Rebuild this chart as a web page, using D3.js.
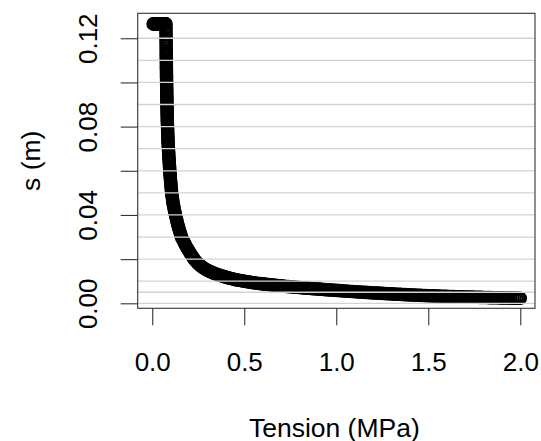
<!DOCTYPE html>
<html><head><meta charset="utf-8">
<script src="https://cdn.jsdelivr.net/npm/d3@7"></script>
<style>body{margin:0;background:#fff}svg{display:block}</style>
</head><body>
<svg id="c" width="541" height="441"></svg>
<script>
// Tension (MPa) and displacement s (m)
const tension = [
0.005,0.009,0.013,0.017,0.021,0.025,0.029,0.033,0.037,0.041,0.045,0.049,0.053,0.057,0.061,0.065,0.069,0.073,
0.0745,0.0746,0.0748,0.0749,0.0751,0.0752,0.0753,0.0754,0.0755,0.0757,0.0758,0.0760,0.0761,0.0762,0.0763,0.0764,0.0765,0.0766,
0.0767,0.0768,0.0769,0.0770,0.0771,0.0772,0.0773,0.0775,0.0776,0.0778,
0.0779,0.0780,0.0782,0.0783,0.0785,0.0786,0.0788,0.0789,0.0791,0.0792,
0.0794,0.0796,0.0798,0.0799,0.0801,0.0803,0.0805,0.0807,0.0808,0.0810,
0.0812,0.0815,0.0818,0.0821,0.0824,0.0827,0.0830,0.0833,0.0836,0.0839,
0.0842,0.0845,0.0848,0.0852,0.0857,0.0861,0.0866,0.0871,0.0876,0.0881,
0.0886,0.0892,0.0898,0.0903,0.0909,0.0914,0.0921,0.0927,0.0934,0.0940,
0.0946,0.0953,0.0960,0.0967,0.0974,0.0981,0.0988,0.0996,0.1003,0.1012,
0.1021,0.1030,0.1038,0.1047,0.1057,0.1070,0.1084,0.1098,0.1111,0.1125,
0.1138,0.1157,0.1176,0.1195,0.1214,0.1234,0.1253,
0.1285,0.1309,0.1332,0.1355,0.1379,0.1402,0.1429,0.1458,0.1487,0.1515,0.1544,0.1573,0.1611,0.1660,0.1709,0.1757,0.1806,0.1855,0.1906,0.1967,0.2028,0.2089,0.2150,0.2211,0.2272,
0.235,0.243,0.251,0.259,0.267,0.275,0.283,0.291,0.299,0.307,0.315,0.323,0.331,0.339,0.347,0.355,0.363,0.371,0.379,0.387,0.395,0.403,0.411,0.419,0.427,0.435,0.443,0.451,
0.46,0.47,0.48,0.49,0.50,0.51,0.52,0.53,
0.54,0.55,0.56,0.57,0.58,0.59,0.60,0.61,0.62,
0.63,0.64,0.65,0.66,0.67,0.68,0.69,0.70,0.71,0.72,0.73,0.74,0.75,0.76,0.77,0.78,0.79,0.80,
0.81,0.82,0.83,0.84,0.85,0.86,0.87,0.88,0.89,0.90,0.91,0.92,0.93,0.94,0.95,0.96,0.97,0.98,0.99,1.00,
1.01,1.02,1.03,1.04,1.05,1.06,1.07,1.08,1.09,1.10,1.11,1.12,1.13,1.14,1.15,1.16,1.17,1.18,
1.19,1.20,1.21,1.22,1.23,1.24,1.25,1.26,1.27,1.28,1.29,1.30,1.31,1.32,1.33,1.34,1.35,1.36,1.37,1.38,1.39,1.40,
1.41,1.42,1.43,1.44,1.45,1.46,1.47,1.48,1.49,1.50,1.51,1.52,1.53,1.54,1.55,1.56,1.57,1.58,1.59,1.60,1.61,1.62,1.63,1.64,1.65,1.66,1.67,
1.68,1.69,1.70,1.71,1.72,1.73,1.74,1.75,1.76,1.77,1.78,1.79,1.80,1.81,1.82,1.83,1.84,1.85,1.86,1.87,1.88,1.89,1.90,1.91,1.92,1.93,1.94,1.95,1.96,1.97,1.98,1.99,2.00
];
const displacement = [
0.1265,0.1265,0.1265,0.1265,0.1265,0.1265,0.1265,0.1265,0.1265,0.1265,0.1265,0.1265,0.1265,0.1265,0.1265,0.1265,0.1265,0.1265,
0.1265,0.1252,0.1240,0.1228,0.1217,0.1206,0.1195,0.1185,0.1175,0.1165,0.1156,0.1147,0.1138,0.1130,0.1122,0.1114,0.1106,0.1099,
0.1091,0.1083,0.1075,0.1067,0.1059,0.1051,0.1043,0.1035,0.1027,0.1019,
0.1011,0.1003,0.0995,0.0987,0.0979,0.0971,0.0963,0.0955,0.0947,0.0939,
0.0931,0.0923,0.0915,0.0907,0.0899,0.0891,0.0883,0.0875,0.0867,0.0859,
0.0851,0.0843,0.0835,0.0827,0.0819,0.0811,0.0803,0.0795,0.0787,0.0779,
0.0771,0.0763,0.0755,0.0747,0.0739,0.0731,0.0723,0.0715,0.0707,0.0699,
0.0691,0.0683,0.0675,0.0667,0.0659,0.0651,0.0643,0.0635,0.0627,0.0619,
0.0611,0.0603,0.0595,0.0587,0.0579,0.0571,0.0563,0.0555,0.0547,0.0539,
0.0531,0.0523,0.0515,0.0507,0.0499,0.0491,0.0483,0.0475,0.0467,0.0459,
0.0451,0.0443,0.0435,0.0427,0.0419,0.0411,0.0403,
0.0392,0.0384,0.0376,0.0368,0.0360,0.0352,0.0344,0.0336,0.0328,0.0320,0.0312,0.0304,0.0296,0.0288,0.0280,0.0272,0.0264,0.0256,0.0248,0.0240,0.0232,0.0224,0.0216,0.0208,0.0200,
0.01929,0.01848,0.01784,0.01721,0.01671,0.01621,0.01576,0.01535,0.01499,0.01467,0.01436,0.01408,0.01377,0.01350,0.01327,0.01300,0.01279,0.01259,0.01236,0.01218,0.01196,0.01178,0.01159,0.01141,0.01123,0.01110,0.01091,0.01073,
0.01060,0.01045,0.01031,0.01016,0.01002,0.00987,0.00973,0.00958,
0.00945,0.00933,0.00922,0.00911,0.00900,0.00890,0.00879,0.00869,0.00859,
0.00849,0.00840,0.00831,0.00822,0.00813,0.00804,0.00796,0.00788,0.00780,0.00772,0.00764,0.00757,0.00749,0.00742,0.00735,0.00728,0.00721,0.00714,
0.00707,0.00700,0.00693,0.00686,0.00680,0.00673,0.00666,0.00660,0.00653,0.00647,0.00640,0.00634,0.00627,0.00621,0.00615,0.00608,0.00602,0.00596,0.00590,0.00584,
0.00578,0.00572,0.00566,0.00560,0.00555,0.00549,0.00543,0.00537,0.00532,0.00526,0.00521,0.00515,0.00510,0.00504,0.00499,0.00494,0.00488,0.00483,
0.00478,0.00473,0.00468,0.00464,0.00459,0.00454,0.00449,0.00445,0.00440,0.00435,0.00431,0.00426,0.00422,0.00417,0.00413,0.00408,0.00404,0.00400,0.00395,0.00391,0.00387,0.00383,
0.00379,0.00375,0.00371,0.00367,0.00363,0.00360,0.00356,0.00352,0.00349,0.00345,0.00342,0.00338,0.00335,0.00332,0.00328,0.00325,0.00322,0.00319,0.00316,0.00313,0.00310,0.00307,0.00304,0.00302,0.00299,0.00296,0.00294,
0.00291,0.00289,0.00287,0.00284,0.00282,0.00280,0.00278,0.00275,0.00273,0.00271,0.00269,0.00267,0.00265,0.00263,0.00261,0.00259,0.00257,0.00255,0.00254,0.00252,0.00250,0.00248,0.00246,0.00245,0.00243,0.00241,0.00240,0.00238,0.00236,0.00235,0.00233,0.00232,0.00230
];
const xTicks = [0, 0.5, 1, 1.5, 2];
const xTickLabels = ["0.0", "0.5", "1.0", "1.5", "2.0"];
const yTicks = [0, 0.02, 0.04, 0.06, 0.08, 0.10, 0.12];
const yTickLabels = ["0.00", "", "0.04", "", "0.08", "", "0.12"];
const gridLevels = [0, 0.005, 0.01, 0.02, 0.03, 0.04, 0.05, 0.06, 0.07, 0.08, 0.09, 0.10, 0.11, 0.12];
const xLim = [-0.079, 2.080];
const yLim = [-0.00226, 0.1313];
const xTitle = "Tension (MPa)";
const yTitle = "s (m)";

const FONT = "'Liberation Sans', Arial, Helvetica, sans-serif";
const L = 137.7, R = 535, T = 13.3, B = 308.3;
const svg = d3.select("#c");
svg.append("rect").attr("width", 541).attr("height", 441).attr("fill", "#fff");

const x = d3.scaleLinear().domain(xLim).range([L, R]);
const y = d3.scaleLinear().domain(yLim).range([B, T]);

const n = Math.min(tension.length, displacement.length);
const pts = d3.range(n).map(i => ({t: tension[i], s: displacement[i]}));

svg.append("defs").append("clipPath").attr("id", "pc")
  .append("rect").attr("x", L).attr("y", T).attr("width", R - L).attr("height", B - T);

svg.append("g").attr("clip-path", "url(#pc)")
  .selectAll("circle").data(pts).join("circle")
  .attr("cx", d => x(d.t)).attr("cy", d => y(d.s))
  .attr("r", 5.8).attr("fill", "none").attr("stroke", "#000").attr("stroke-width", 2);

// horizontal reference lines (drawn over the points)
svg.append("g").selectAll("line").data(gridLevels).join("line")
  .attr("x1", L).attr("x2", R)
  .attr("y1", d => y(d)).attr("y2", d => y(d))
  .attr("stroke", "#d3d3d3").attr("stroke-width", 1.3);

// box
svg.append("rect").attr("x", L).attr("y", T).attr("width", R - L).attr("height", B - T)
  .attr("fill", "none").attr("stroke", "#333").attr("stroke-width", 1.1);

// x axis
const gx = svg.append("g").attr("transform", `translate(0,${B})`)
  .call(d3.axisBottom(x).tickValues(xTicks).tickFormat((d, i) => xTickLabels[i]).tickSize(17).tickSizeOuter(0));
gx.select(".domain").remove();
gx.attr("font-family", FONT).attr("font-size", 26);
gx.selectAll(".tick line").attr("stroke", "#333").attr("stroke-width", 1.1);
gx.selectAll(".tick text").attr("y", 62.4).attr("dy", null).attr("fill", "#000");

// y axis
const gy = svg.append("g").attr("transform", `translate(${L},0)`)
  .call(d3.axisLeft(y).tickValues(yTicks).tickFormat((d, i) => yTickLabels[i]).tickSize(17).tickSizeOuter(0));
gy.select(".domain").remove();
gy.attr("font-family", FONT).attr("font-size", 26);
gy.selectAll(".tick line").attr("stroke", "#333").attr("stroke-width", 1.1);
gy.selectAll(".tick text").attr("x", 0).attr("dy", null)
  .attr("text-anchor", "middle").attr("transform", "translate(-40.7,0) rotate(-90)").attr("fill", "#000");

// titles
svg.append("text").attr("x", (L + R) / 2 - 2).attr("y", 436.5)
  .attr("text-anchor", "middle").attr("font-family", FONT).attr("font-size", 26.5).attr("fill", "#000")
  .text(xTitle);
svg.append("text").attr("transform", `translate(40,${(T + B) / 2}) rotate(-90)`)
  .attr("text-anchor", "middle").attr("font-family", FONT).attr("font-size", 26.5).attr("fill", "#000")
  .text(yTitle);
</script>
</body></html>
